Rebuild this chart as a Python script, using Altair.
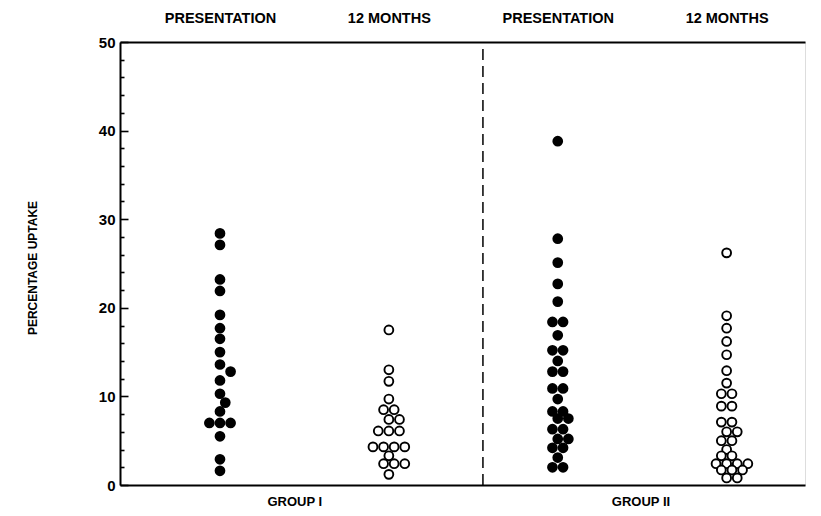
import math
import altair as alt
import pandas as pd

# ---------------- data ----------------
column_keys = ["g1_pres", "g1_12m", "g2_pres", "g2_12m"]
timepoints = ["Presentation", "12 months", "Presentation", "12 months"]
header_labels = ["PRESENTATION", "12 MONTHS", "PRESENTATION", "12 MONTHS"]
group_labels = ["GROUP I", "GROUP II"]

g1_pres = [28.4, 27.1, 23.2, 21.9, 19.2, 17.7, 16.5, 15.0, 13.6, 12.8,
           11.8, 10.3, 9.3, 8.3, 7.0, 7.0, 7.0, 5.5, 2.9, 1.6]
g1_12m = [17.5, 13.0, 11.7, 9.7, 8.5, 8.5, 7.4, 7.4, 6.1, 6.1,
          6.1, 4.3, 4.3, 4.3, 4.3, 3.3, 2.4, 2.4, 2.4, 1.2]
g2_pres = [38.8, 27.8, 25.1, 22.7, 20.7, 18.4, 18.4, 16.9, 15.2, 15.2,
           14.0, 12.8, 12.8, 10.9, 10.9, 9.7, 8.3, 8.3, 7.5, 7.5,
           6.3, 6.3, 5.2, 5.2, 4.2, 4.2, 3.1, 2.0, 2.0]
g2_12m = [26.2, 19.1, 17.7, 16.2, 14.7, 12.9, 11.5, 10.3, 10.3, 8.9,
          8.9, 7.1, 7.1, 6.0, 6.0, 5.0, 5.0, 4.0, 3.3, 3.3,
          2.4, 2.4, 2.4, 2.4, 1.7, 1.7, 1.7, 0.8, 0.8]
columns = [g1_pres, g1_12m, g2_pres, g2_12m]

y_ticks_major = [0, 10, 20, 30, 40, 50]
y_ticks_all = list(range(0, 51, 2))
divider_pos = 2.557

# ---------------- layout ----------------
W, H = 685, 443
X_DOMAIN = [0.408, 4.464]
Y_DOMAIN = [0, 50]
px_per_x = W / (X_DOMAIN[1] - X_DOMAIN[0])
px_per_y = H / (Y_DOMAIN[1] - Y_DOMAIN[0])
DOT = 10.6          # horizontal step between tied dots (px)
MIN_DIST = 10.0     # preferred minimum centre distance (px)


def dot_layout(values):
    """Tied values sit side by side in a centred row; a row that crowds the
    row above it is nudged sideways by half a step."""
    uniq = sorted(set(values), reverse=True)
    placed = []
    offsets_for = {}
    for v in uniq:
        n = values.count(v)
        base = [(k - (n - 1) / 2) * DOT for k in range(n)]
        y = v * px_per_y
        best, best_d = None, -1
        for shift in (0, DOT / 2, -DOT / 2, DOT, -DOT):
            xs = [b + shift for b in base]
            dmin = min([math.hypot(x - px, y - py) for x in xs for py, px in placed] or [1e9])
            if dmin >= MIN_DIST:
                best = xs
                break
            if dmin > best_d + 1e-9:
                best, best_d = xs, dmin
        offsets_for[v] = list(best)
        placed += [(y, x) for x in best]
    out = []
    for v in values:
        out.append(offsets_for[v].pop(0))
    return out


rows = []
for ci, vals in enumerate(columns):
    offs = dot_layout(vals)
    for v, o in zip(vals, offs):
        rows.append({
            "column": column_keys[ci],
            "timepoint": timepoints[ci],
            "value": v,
            "x": ci + 1 + o / px_per_x,
        })
df = pd.DataFrame(rows)

div_df = pd.DataFrame({"x": [divider_pos], "y0": [Y_DOMAIN[0]], "y1": [Y_DOMAIN[1]]})

FONT = "Liberation Sans"

x_scale = alt.Scale(domain=X_DOMAIN, nice=False, zero=False)
y_scale = alt.Scale(domain=Y_DOMAIN, nice=False, zero=False)

group_expr = "datum.value < %s ? '%s' : '%s'" % (divider_pos, group_labels[0], group_labels[1])
header_expr = "[" + ",".join("'%s'" % h for h in header_labels) + "][round(datum.value) - 1]"

points = alt.Chart(df).mark_point(
    shape="circle", size=78, strokeWidth=1.9, opacity=1
).encode(
    x=alt.X("x:Q", scale=x_scale, axis=alt.Axis(
        orient="bottom", values=[1.44, 3.49], labelExpr=group_expr,
        ticks=False, tickSize=0, domainColor="black", domainWidth=2,
        labelFont=FONT, labelFontSize=13, labelFontWeight="bold", labelColor="black",
        labelPadding=16, labelBaseline="middle", labelFlush=False,
        grid=False, title=None)),
    y=alt.Y("value:Q", scale=y_scale, axis=alt.Axis(
        orient="left", values=y_ticks_major, ticks=False, tickSize=0,
        domainColor="black", domainWidth=2,
        labelFont=FONT, labelFontSize=15, labelFontWeight="bold",
        labelColor="black", labelPadding=5,
        grid=False, title="PERCENTAGE UPTAKE", titleFont=FONT,
        titleFontSize=12, titleFontWeight="bold", titleColor="black",
        titleAngle=270, titleX=-88, titleY=H / 2 + 4, titleAlign="center",
        titleBaseline="middle")),
    fill=alt.Fill("timepoint:N", scale=alt.Scale(
        domain=["Presentation", "12 months"], range=["black", "white"]), legend=None),
    stroke=alt.value("black"),
)

divider = alt.Chart(div_df).mark_rule(
    strokeDash=[11, 6], strokeWidth=1.5, color="black"
).encode(
    x=alt.X("x:Q", scale=x_scale, axis=alt.Axis(
        orient="top", values=[1, 2, 3, 4], labelExpr=header_expr,
        ticks=False, tickSize=0, domainColor="black", domainWidth=2,
        labelFont=FONT, labelFontSize=14.5, labelFontWeight="bold", labelColor="black",
        labelPadding=24, labelBaseline="middle", labelFlush=False,
        grid=False, title=None)),
    y=alt.Y("y0:Q", scale=y_scale, axis=alt.Axis(
        orient="right", offset=-W, values=y_ticks_all, labels=False,
        domain=False, tickColor="black", tickWidth=1.6,
        tickSize={"condition": {"test": "datum.value % 10 === 0", "value": 8}, "value": 4},
        grid=False, title=None)),
    y2="y1:Q",
)

chart = alt.layer(divider, points).resolve_axis(
    x="independent", y="independent"
).properties(
    width=W, height=H,
    autosize=alt.AutoSizeParams(type="none"),
    padding={"left": 112, "top": 34, "right": 8, "bottom": 23},
).configure_view(stroke=None).configure(background="white")

chart.save("out.html", embed_options={"renderer": "svg", "actions": False})
